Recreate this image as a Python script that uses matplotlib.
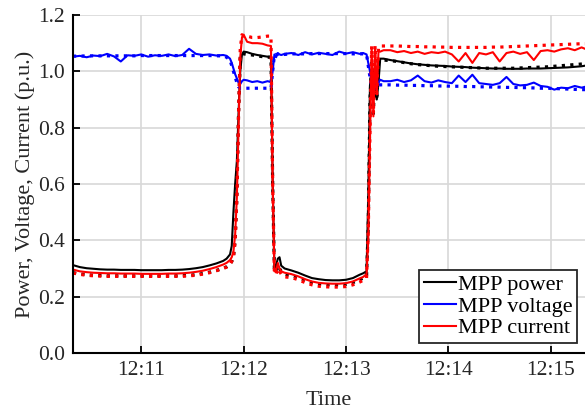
import matplotlib
matplotlib.use('Agg')
import matplotlib.pyplot as plt

# time in seconds after 12:10:00
t = [20, 24, 28, 32, 36, 40, 44, 48, 52, 56, 60, 64, 68, 72, 76, 80, 84, 88, 92, 96, 100, 104, 108,
     110, 112, 113, 114, 115, 116, 117, 118, 119, 120,
     122, 125, 128, 131, 134, 136,
     137, 138, 139, 140, 141, 142, 144,
     148, 152, 156, 160, 164, 168, 172, 176, 180, 184, 188,
     190, 192, 193, 194, 195, 196, 197, 198, 199, 200, 202,
     206, 210, 214, 218, 222, 226, 230, 234, 238, 242, 246, 250, 254, 258, 262,
     266, 270, 274, 278, 282, 286, 290, 294, 298, 302, 306, 310, 314, 318, 320]

power = [0.312, 0.305, 0.301, 0.299, 0.297, 0.296, 0.296, 0.295, 0.295, 0.295, 0.294, 0.294,
         0.294, 0.294, 0.295, 0.295, 0.296, 0.298, 0.301, 0.305, 0.311, 0.318, 0.327,
         0.335, 0.35, 0.38, 0.50, 0.60, 0.68, 0.85, 1.00, 1.06, 1.07,
         1.068, 1.062, 1.058, 1.055, 1.052, 1.052,
         0.60, 0.30, 0.31, 0.335, 0.34, 0.31, 0.30,
         0.293, 0.285, 0.275, 0.266, 0.262, 0.259, 0.258, 0.258, 0.26, 0.266, 0.278,
         0.283, 0.29, 0.55, 0.95, 1.0, 0.97, 0.93, 0.90, 0.96, 1.045, 1.045,
         1.04, 1.036, 1.032, 1.028, 1.025, 1.023, 1.021, 1.02, 1.019, 1.017, 1.016, 1.015,
         1.013, 1.012, 1.011, 1.01, 1.01, 1.009, 1.009, 1.009, 1.01, 1.01, 1.01, 1.011,
         1.012, 1.013, 1.014, 1.016, 1.018, 1.02]

power_mpp = [0.285, 0.281, 0.278, 0.276, 0.275, 0.274, 0.274, 0.274, 0.274, 0.274, 0.274, 0.274,
             0.274, 0.274, 0.274, 0.274, 0.275, 0.276, 0.278, 0.282, 0.287, 0.293, 0.301,
             0.306, 0.315, 0.325, 0.34, 0.40, 0.55, 0.85, 1.05, 1.065, 1.062,
             1.06, 1.058, 1.055, 1.052, 1.05, 1.05,
             0.60, 0.29, 0.29, 0.31, 0.30, 0.29, 0.28,
             0.275, 0.268, 0.258, 0.25, 0.245, 0.243, 0.242, 0.242, 0.244, 0.25, 0.26,
             0.266, 0.274, 0.45, 0.9, 1.03, 0.85, 1.02, 0.9, 1.03, 1.04, 1.04,
             1.038, 1.035, 1.031, 1.027, 1.024, 1.022, 1.02, 1.018, 1.017, 1.016, 1.015, 1.014,
             1.013, 1.012, 1.011, 1.011, 1.011, 1.011, 1.011, 1.012, 1.013, 1.014, 1.015, 1.016,
             1.018, 1.02, 1.022, 1.024, 1.026, 1.027]

voltage = [1.052, 1.055, 1.05, 1.056, 1.054, 1.062, 1.053, 1.035, 1.057, 1.055, 1.06, 1.052,
           1.057, 1.055, 1.06, 1.054, 1.058, 1.08, 1.062, 1.058, 1.06, 1.056, 1.058,
           1.055, 1.045, 1.03, 1.01, 0.99, 0.975, 0.96, 0.955, 0.965, 0.97,
           0.968, 0.962, 0.965, 0.96, 0.965, 0.962,
           1.0, 1.06, 1.05, 1.065, 1.06, 1.058, 1.062,
           1.065, 1.058, 1.068, 1.06, 1.066, 1.062, 1.058, 1.07, 1.063, 1.068, 1.062,
           1.065, 1.06, 1.03, 1.0, 0.96, 0.93, 0.97, 0.95, 0.96, 0.97, 0.965,
           0.965, 0.97, 0.962, 0.968, 0.985, 0.965, 0.96, 0.968, 0.962, 0.958, 0.985, 0.962,
           0.988, 0.958, 0.955, 0.952, 0.958, 0.98, 0.955, 0.95, 0.952, 0.96, 0.948, 0.945,
           0.935, 0.942, 0.94, 0.948, 0.942, 0.945]

voltage_mpp = [1.054, 1.054, 1.055, 1.055, 1.055, 1.055, 1.055, 1.055, 1.055, 1.055, 1.056, 1.056,
               1.056, 1.056, 1.056, 1.056, 1.056, 1.056, 1.056, 1.056, 1.056, 1.055, 1.055,
               1.05, 1.04, 1.02, 1.0, 0.98, 0.96, 0.945, 0.94, 0.94, 0.94,
               0.94, 0.94, 0.94, 0.94, 0.94, 0.94,
               1.0, 1.058, 1.06, 1.06, 1.06, 1.06, 1.06,
               1.062, 1.062, 1.062, 1.063, 1.063, 1.063, 1.063, 1.063, 1.063, 1.062, 1.062,
               1.062, 1.06, 1.02, 0.98, 0.95, 0.92, 0.96, 0.94, 0.95, 0.952, 0.952,
               0.952, 0.951, 0.951, 0.95, 0.95, 0.949, 0.949, 0.948, 0.948, 0.947, 0.947, 0.946,
               0.946, 0.945, 0.945, 0.944, 0.944, 0.943, 0.943, 0.942, 0.942, 0.941, 0.94, 0.94,
               0.939, 0.938, 0.937, 0.936, 0.935, 0.935]

current = [0.296, 0.29, 0.287, 0.285, 0.284, 0.283, 0.283, 0.282, 0.282, 0.282, 0.281, 0.281,
           0.281, 0.281, 0.282, 0.282, 0.283, 0.285, 0.288, 0.292, 0.298, 0.305, 0.314,
           0.32, 0.33, 0.34, 0.36, 0.42, 0.55, 0.80, 1.05, 1.12, 1.13,
           1.105, 1.10, 1.10, 1.098, 1.092, 1.09,
           0.60, 0.29, 0.29, 0.32, 0.30, 0.29, 0.285,
           0.28, 0.272, 0.262, 0.254, 0.249, 0.247, 0.246, 0.246, 0.248, 0.254, 0.265,
           0.27, 0.28, 0.40, 0.75, 1.08, 0.84, 1.08, 0.92, 1.07, 1.07, 1.075,
           1.075, 1.068, 1.072, 1.065, 1.07, 1.062, 1.068, 1.065, 1.07, 1.06, 1.035, 1.065,
           1.03, 1.065, 1.06, 1.068, 1.035, 1.065, 1.07, 1.062, 1.068, 1.04, 1.072, 1.075,
           1.07, 1.078, 1.082, 1.075, 1.085, 1.08]

current_mpp = [0.284, 0.279, 0.276, 0.274, 0.273, 0.272, 0.272, 0.272, 0.272, 0.272, 0.272, 0.272,
               0.272, 0.272, 0.272, 0.272, 0.272, 0.274, 0.276, 0.28, 0.285, 0.292, 0.30,
               0.305, 0.315, 0.325, 0.34, 0.40, 0.55, 0.85, 1.08, 1.13, 1.125,
               1.125, 1.12, 1.12, 1.122, 1.125, 1.125,
               0.6, 0.28, 0.28, 0.30, 0.29, 0.28, 0.27,
               0.268, 0.26, 0.25, 0.242, 0.237, 0.235, 0.234, 0.234, 0.236, 0.242, 0.252,
               0.258, 0.266, 0.43, 0.78, 1.09, 0.85, 1.09, 0.92, 1.085, 1.09, 1.09,
               1.09, 1.09, 1.089, 1.088, 1.088, 1.087, 1.087, 1.086, 1.086, 1.085, 1.085, 1.085,
               1.085, 1.085, 1.085, 1.086, 1.086, 1.087, 1.088, 1.089, 1.09, 1.091, 1.092, 1.093,
               1.094, 1.095, 1.096, 1.097, 1.098, 1.098]

xticks = [60, 120, 180, 240, 300]
xticklabels = ['12:11', '12:12', '12:13', '12:14', '12:15']
yticks = [0.0, 0.2, 0.4, 0.6, 0.8, 1.0, 1.2]

plt.rcParams['font.family'] = ['Liberation Serif', 'DejaVu Serif']

fig = plt.figure(figsize=(5.85, 4.12), dpi=100)
ax = fig.add_axes([0.1248, 0.1432, 0.8752, 0.8204])

ax.plot(t, power, color='black', lw=1.5, label='MPP power')
ax.plot(t, power_mpp, color='black', lw=2.3, ls=':')
ax.plot(t, voltage, color='#0000ff', lw=1.5, label='MPP voltage')
ax.plot(t, voltage_mpp, color='#0000ff', lw=2.3, ls=':')
ax.plot(t, current, color='#ff0000', lw=1.5, label='MPP current')
ax.plot(t, current_mpp, color='#ff0000', lw=2.3, ls=':')

ax.set_xlim(20, 320)
ax.set_ylim(0, 1.2)
ax.set_xticks(xticks)
ax.set_xticklabels(xticklabels)
ax.set_yticks(yticks)
ax.set_yticklabels(['%.1f' % v for v in yticks])
ax.grid(True, color='#d8d8d8', lw=1.2)
ax.set_axisbelow(True)

for s in ['top', 'right']:
	ax.spines[s].set_visible(False)
for s in ['left', 'bottom']:
	ax.spines[s].set_linewidth(1.5)
ax.tick_params(direction='in', length=5, width=1.3, labelsize=15.5, labelcolor='#262626', pad=6)

ax.set_xlabel('Time', fontsize=16, color='#262626', labelpad=8)
ax.set_ylabel('Power, Voltage, Current (p.u.)', fontsize=16, color='#262626', labelpad=2)

leg = ax.legend(loc='lower right', bbox_to_anchor=(0.985, 0.03), borderaxespad=0, fontsize=16,
	fancybox=False, framealpha=1, edgecolor='#262626', handlelength=1.45, handletextpad=0.1,
	labelspacing=0.05, borderpad=0.2)
leg.get_frame().set_linewidth(1.3)

fig.savefig('out.png', dpi=100)
